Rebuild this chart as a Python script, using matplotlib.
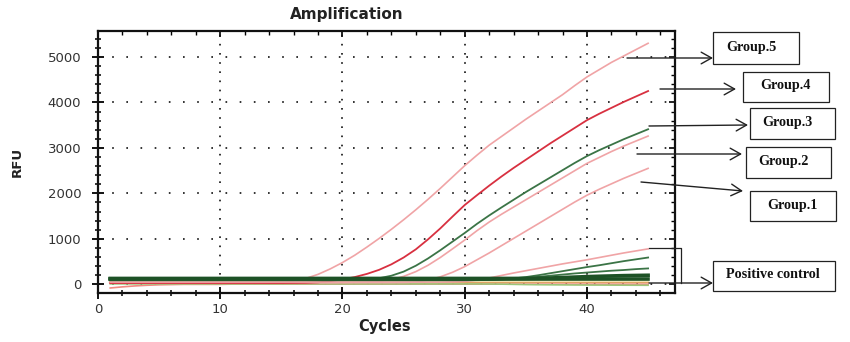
import matplotlib
matplotlib.use("Agg")
import matplotlib.pyplot as plt
from matplotlib.patches import Rectangle
from matplotlib.ticker import MultipleLocator

# amplification curves, RFU per cycle (cycles 1..45)
cycles = list(range(1, 46))

group5 = [30, 30, 30, 30, 30, 30, 30, 30, 30, 30,
          30, 30, 30, 35, 45, 70, 130, 220, 340, 480,
          640, 820, 1010, 1210, 1420, 1640, 1870, 2110, 2360, 2610,
          2840, 3060, 3250, 3440, 3630, 3810, 3990, 4170, 4370, 4560,
          4720, 4880, 5020, 5160, 5300]
group4 = [30, 30, 30, 30, 30, 30, 30, 30, 30, 30,
          30, 30, 30, 30, 30, 32, 35, 45, 70, 110,
          160, 230, 320, 440, 590, 770, 990, 1230, 1490, 1745,
          1960, 2170, 2370, 2560, 2740, 2920, 3100, 3270, 3440, 3610,
          3750, 3880, 4010, 4130, 4250]
group3 = [90, 90, 90, 90, 90, 90, 90, 90, 90, 90,
          90, 90, 90, 90, 90, 90, 90, 90, 90, 92,
          95, 105, 135, 190, 280, 410, 570, 750, 940, 1130,
          1330, 1515, 1690, 1860, 2030, 2190, 2350, 2510, 2670, 2820,
          2950, 3070, 3190, 3300, 3410]
group2 = [40, 40, 40, 40, 40, 40, 40, 40, 40, 40,
          40, 40, 40, 40, 40, 40, 40, 40, 40, 42,
          45, 50, 65, 105, 175, 280, 420, 590, 780, 975,
          1180, 1370, 1540, 1700, 1860, 2020, 2180, 2340, 2500, 2660,
          2790, 2920, 3040, 3150, 3260]
group1 = [40, 40, 40, 40, 40, 40, 40, 40, 40, 40,
          40, 40, 40, 40, 40, 40, 40, 40, 40, 40,
          40, 40, 40, 40, 42, 50, 95, 165, 265, 390,
          540, 690, 850, 1010, 1170, 1330, 1490, 1650, 1810, 1960,
          2090, 2210, 2330, 2440, 2550]

# positive control wells
ctrl_pink = [50, 50, 50, 50, 50, 50, 50, 50, 50, 50,
             50, 50, 50, 50, 50, 50, 50, 50, 50, 50,
             50, 50, 50, 50, 50, 50, 50, 50, 55, 65,
             95, 140, 195, 250, 300, 350, 400, 450, 495, 540,
             590, 640, 690, 735, 780]
ctrl_green_a = [90, 90, 90, 90, 90, 90, 90, 90, 90, 90,
                90, 90, 90, 90, 90, 90, 90, 90, 90, 90,
                90, 90, 90, 90, 90, 90, 90, 90, 90, 90,
                92, 97, 110, 130, 160, 200, 245, 290, 335, 380,
                420, 465, 510, 550, 590]
ctrl_green_b = [100, 100, 100, 100, 100, 100, 100, 100, 100, 100,
                100, 100, 100, 100, 100, 100, 100, 100, 100, 100,
                100, 100, 100, 100, 100, 100, 100, 100, 100, 100,
                100, 102, 110, 120, 140, 165, 190, 215, 240, 260,
                280, 300, 315, 335, 350]
ctrl_green_c = [130, 130, 130, 130, 130, 130, 130, 130, 130, 130,
                130, 130, 130, 130, 130, 130, 130, 130, 130, 130,
                130, 130, 130, 130, 130, 130, 130, 130, 130, 130,
                130, 130, 130, 130, 132, 135, 140, 150, 160, 170,
                178, 185, 192, 196, 200]

# negative / background wells
base_green = [122, 122, 122, 122, 122, 122, 122, 122, 122, 122,
              122, 122, 122, 122, 122, 122, 122, 122, 122, 122,
              122, 122, 122, 122, 122, 122, 122, 122, 122, 122,
              122, 122, 122, 122, 122, 122, 122, 122, 122, 122,
              122, 122, 122, 122, 122]
base_cream = [80, 80, 80, 80, 80, 80, 80, 80, 80, 80,
              80, 80, 80, 80, 80, 80, 80, 80, 80, 80,
              80, 80, 80, 80, 80, 80, 80, 80, 80, 80,
              80, 80, 80, 80, 80, 80, 80, 80, 80, 80,
              80, 80, 80, 80, 80]
base_orange = [50, 50, 50, 50, 50, 50, 50, 50, 50, 50,
               50, 50, 50, 50, 50, 50, 50, 50, 50, 50,
               50, 50, 50, 50, 50, 50, 50, 50, 50, 50,
               50, 50, 50, 50, 50, 50, 50, 50, 50, 50,
               50, 50, 50, 50, 50]
base_lgreen = [10, 10, 10, 10, 10, 10, 10, 10, 10, 10,
               10, 10, 10, 10, 10, 10, 10, 10, 10, 10,
               10, 10, 10, 10, 10, 10, 10, 10, 10, 10,
               10, 8, 5, 0, -5, -8, -10, -12, -14, -15,
               -16, -17, -18, -19, -20]
base_salmon = [-80, -55, -35, -20, -10, -5, 0, 0, 0, 0,
               5, 5, 5, 5, 5, 5, 5, 5, 5, 5,
               5, 5, 5, 5, 5, 5, 5, 5, 5, 5,
               5, 5, 5, 5, 5, 5, 5, 5, 5, 5,
               5, 5, 5, 5, 5]

group_labels = ["Group.5", "Group.4", "Group.3", "Group.2", "Group.1"]
control_label = "Positive control"

PINK = "#f0a4a6"
RED = "#d83040"
GREEN = "#3b7446"
DKGREEN = "#1d5226"
INK = "#111111"

W, H = 850, 342
fig = plt.figure(figsize=(W / 100, H / 100), dpi=100)
ax = fig.add_axes([98 / W, 1 - 293 / H, 577 / W, 262 / H])

ax.plot(cycles, base_salmon, color="#f08a80", lw=1.2)
ax.plot(cycles, base_lgreen, color="#9cc77a", lw=1.2)
ax.plot(cycles, base_orange, color="#e0a464", lw=1.6)
ax.plot(cycles, base_cream, color="#f3e6b8", lw=1.4)
ax.plot(cycles, group1, color=PINK, lw=1.2)
ax.plot(cycles, group2, color=PINK, lw=1.2)
ax.plot(cycles, group5, color=PINK, lw=1.2)
ax.plot(cycles, group4, color=RED, lw=1.3)
ax.plot(cycles, group3, color=GREEN, lw=1.3)
ax.plot(cycles, ctrl_pink, color=PINK, lw=1.2)
ax.plot(cycles, ctrl_green_a, color=GREEN, lw=1.3)
ax.plot(cycles, ctrl_green_b, color=GREEN, lw=1.3)
ax.plot(cycles, ctrl_green_c, color=DKGREEN, lw=2.6)
ax.plot(cycles, base_green, color=DKGREEN, lw=2.6)

ax.set_xlim(0, 47.2)
ax.set_ylim(-190, 5570)


def set_locators(axis_x, axis_y):
    if axis_x is not None:
        axis_x.set_major_locator(MultipleLocator(10))
        axis_x.set_minor_locator(MultipleLocator(2))
    if axis_y is not None:
        axis_y.set_major_locator(MultipleLocator(1000))
        axis_y.set_minor_locator(MultipleLocator(200))


set_locators(ax.xaxis, ax.yaxis)
ax.tick_params(which="major", direction="inout", length=8, width=1.3,
               labelsize=9.5, labelcolor="#333333")
ax.tick_params(which="minor", direction="inout", length=5, width=1.1)
ax.tick_params(axis="y", which="major", pad=8)
ax.tick_params(axis="x", which="major", pad=3)

# inward ticks on the top and right frame
top = ax.secondary_xaxis("top")
right = ax.secondary_yaxis("right")
set_locators(top.xaxis, None)
set_locators(None, right.yaxis)
for sec in (top, right):
    sec.tick_params(which="major", direction="in", length=4, width=1.2,
                    labeltop=False, labelright=False)
    sec.tick_params(which="minor", direction="in", length=3, width=1.0)
    for sp in sec.spines.values():
        sp.set_visible(False)

for sp in ax.spines.values():
    sp.set_linewidth(1.6)
    sp.set_color(INK)

ax.xaxis.grid(True, which="major", color=INK, lw=1.2,
              linestyle=(0, (1, 4.5)))
ax.yaxis.grid(True, which="major", color=INK, lw=1.2,
              linestyle=(0, (1, 7.5)))

fig.text(347 / W, 1 - 15 / H, "Amplification", ha="center", va="center",
         fontsize=11, fontweight="bold", color="#222222")
fig.text(385 / W, 1 - 327 / H, "Cycles", ha="center", va="center",
         fontsize=10.5, fontweight="bold", color="#222222")
fig.text(17 / W, 1 - 162 / H, "RFU", ha="center", va="center",
         rotation=90, fontsize=9.5, fontweight="bold", color="#222222")

# callout boxes and arrows, drawn in pixel coordinates on an overlay
ov = fig.add_axes([0, 0, 1, 1], zorder=5)
ov.set_xlim(0, W)
ov.set_ylim(H, 0)
ov.axis("off")
ov.patch.set_alpha(0)

boxes = [(713, 32, 799, 64), (743, 72, 829, 102), (750, 108, 835, 139),
         (746, 147, 831, 178), (750, 191, 836, 221)]
text_x = [726, 760, 762, 758, 767]
arrows = [((627, 58), (713, 58)), ((660, 89), (736, 89)),
          ((649, 126), (748, 125)), ((637, 154), (742, 154)),
          ((641, 182), (743, 191))]

serif = ["Liberation Serif", "DejaVu Serif"]
arrow_kw = dict(arrowstyle="->,head_length=0.75,head_width=0.42",
                color="#222222", lw=1.0, shrinkA=0, shrinkB=0,
                mutation_scale=10)

for label, (x0, y0, x1, y1), tx, (start, end) in zip(
        group_labels, boxes, text_x, arrows):
    ov.add_patch(Rectangle((x0, y0), x1 - x0, y1 - y0, fill=False,
                           lw=0.9, edgecolor="#222222"))
    ov.text(tx, (y0 + y1) / 2 - 1, label, ha="left", va="center",
            fontsize=10.2, fontweight="bold", family=serif, color=INK)
    ov.annotate("", xy=end, xytext=start, arrowprops=arrow_kw)

# bracket over the positive control wells
ov.add_patch(Rectangle((713, 261), 122, 30, fill=False, lw=0.9,
                       edgecolor="#222222"))
ov.text(726, 275, control_label, ha="left", va="center", fontsize=10.2,
        fontweight="bold", family=serif, color=INK)
ov.plot([649, 681, 681], [248, 248, 283], color="#222222", lw=0.9)
ov.annotate("", xy=(713, 283), xytext=(649, 283), arrowprops=arrow_kw)

fig.savefig("out.png", dpi=100)
